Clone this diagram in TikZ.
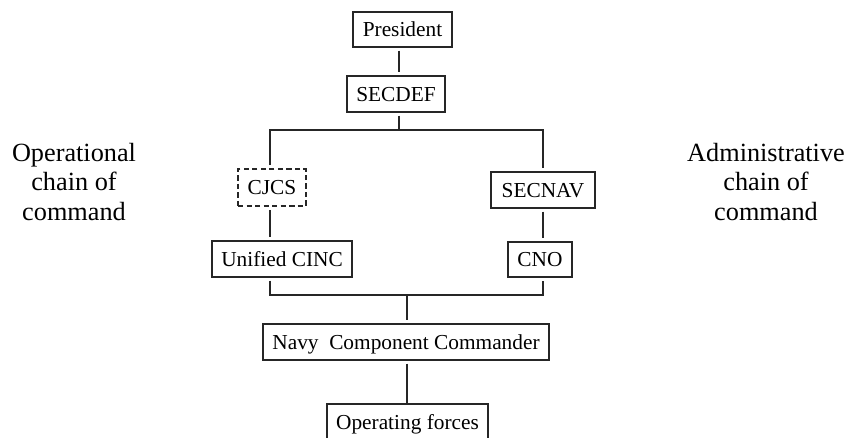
\documentclass[tikz,border=0pt]{standalone}
\usepackage{fontspec}
\setmainfont{Liberation Serif}
\begin{document}
\begin{tikzpicture}[x=0.75pt,y=-0.75pt,
  box/.style={draw=black!85, line width=0.9pt, rectangle, inner sep=0pt,
    font=\fontsize{16}{18}\selectfont, text height=10.6pt, text depth=0pt},
  dashbox/.style={box, line width=1.15pt, dash pattern=on 4pt off 2.4pt},
  link/.style={draw=black!85, line width=0.9pt, shorten <=2.25pt, shorten >=2.25pt},
  side/.style={font=\fontsize{19.7}{22.2}\selectfont, align=center, inner sep=0pt, anchor=south}]
\useasboundingbox (0,0) rectangle (853,437);
\clip (0,0) rectangle (853,437);

\node[box, minimum width=99*0.75pt, minimum height=35*0.75pt] (pres) at (402.5,29.5) {President};
\node[box, minimum width=98*0.75pt, minimum height=36*0.75pt] (secdef) at (396,94) {SECDEF};
\node[dashbox, minimum width=68*0.75pt, minimum height=37*0.75pt] (cjcs) at (272,187.5) {CJCS};
\node[box, minimum width=104*0.75pt, minimum height=36*0.75pt] (secnav) at (543,190) {SECNAV};
\node[box, minimum width=140*0.75pt, minimum height=36*0.75pt] (unified) at (282,259) {Unified CINC};
\node[box, minimum width=64*0.75pt, minimum height=35*0.75pt] (cno) at (540,259.5) {CNO};
\node[box, minimum width=286*0.75pt, minimum height=36*0.75pt] (navy) at (406,342) {Navy\ \ Component Commander};
\node[box, minimum width=161*0.75pt, minimum height=36*0.75pt] (ops) at (407.5,422) {Operating forces};

\node[side] (opl) at (74,221) {Operational\\chain of\\command};
\node[side] (adl) at (766,221) {Administrative\\chain of\\command};

\coordinate (tr) at (399,130);
\coordinate (jl) at (270,130);
\coordinate (jr) at (543,130);
\coordinate (bl) at (270,295);
\coordinate (br) at (543,295);
\coordinate (bc) at (407,295);

\draw[link] (pres.south -| tr) -- (secdef.north -| tr);
\draw[link, shorten >=0pt] (secdef.south -| tr) -- (tr);
\draw[link] (cjcs.north -| jl) -- (jl) -- (jr) -- (secnav.north -| jr);
\draw[link] (cjcs.south -| jl) -- (unified.north -| jl);
\draw[link] (secnav.south -| jr) -- (cno.north -| jr);
\draw[link] (unified.south -| bl) -- (bl) -- (br) -- (cno.south -| br);
\draw[link, shorten <=0pt] (bc) -- (navy.north -| bc);
\draw[link, shorten >=0.5pt] (navy.south -| bc) -- (ops.north -| bc);
\end{tikzpicture}
\end{document}
